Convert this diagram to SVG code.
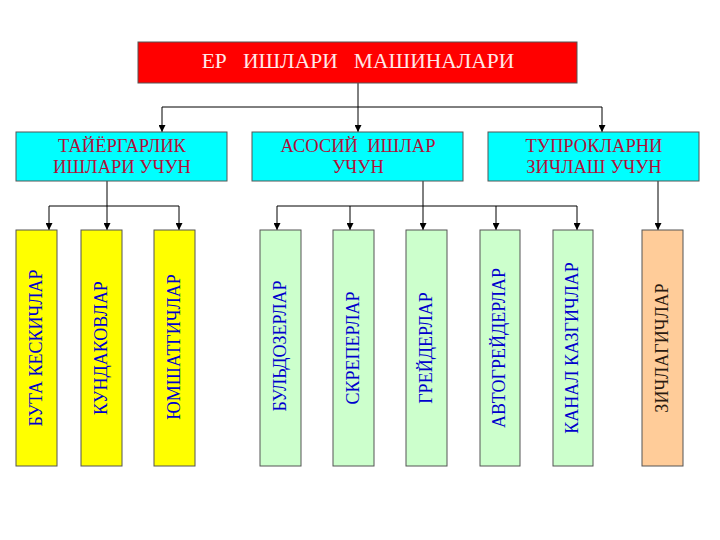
<svg xmlns="http://www.w3.org/2000/svg" width="720" height="540" viewBox="0 0 720 540">
<defs>
<marker id="ah" viewBox="0 0 8 8" refX="8" refY="4" markerWidth="7" markerHeight="7" orient="auto" markerUnits="userSpaceOnUse">
<path d="M0,0 L8,4 L0,8 z" fill="#000"/>
</marker>
<style>
.t{font-family:"Liberation Serif","Times New Roman",serif;white-space:pre}
.box{stroke:#555;stroke-width:1}
.c{fill:none;stroke:#000;stroke-width:1}
.a{fill:none;stroke:#000;stroke-width:1;marker-end:url(#ah)}
.v{font-family:"Liberation Serif","Times New Roman",serif;font-size:18px;text-anchor:middle}
.mid{font-family:"Liberation Serif","Times New Roman",serif;font-size:18.5px;text-anchor:middle;fill:#B0103A;white-space:pre}
</style>
</defs>
<rect width="720" height="540" fill="#fff"/>
<g id="connectors">
<line class="c" x1="358" y1="83" x2="358" y2="107"/>
<line class="c" x1="162" y1="107" x2="602" y2="107"/>
<line class="a" x1="162" y1="107" x2="162" y2="132"/>
<line class="a" x1="358" y1="107" x2="358" y2="132"/>
<line class="a" x1="602" y1="107" x2="602" y2="132"/>
<line class="c" x1="107" y1="181" x2="107" y2="206"/>
<line class="c" x1="49" y1="206" x2="179" y2="206"/>
<line class="a" x1="49" y1="206" x2="49" y2="230"/>
<line class="a" x1="107" y1="206" x2="107" y2="230"/>
<line class="a" x1="179" y1="206" x2="179" y2="230"/>
<line class="c" x1="423" y1="181" x2="423" y2="206"/>
<line class="c" x1="277" y1="206" x2="577" y2="206"/>
<line class="a" x1="277" y1="206" x2="277" y2="230"/>
<line class="a" x1="350" y1="206" x2="350" y2="230"/>
<line class="a" x1="423" y1="206" x2="423" y2="230"/>
<line class="a" x1="496" y1="206" x2="496" y2="230"/>
<line class="a" x1="577" y1="206" x2="577" y2="230"/>
<line class="a" x1="658" y1="181" x2="658" y2="230"/>
</g>
<g id="root">
<rect class="box" x="138" y="42" width="439" height="41" fill="#FF0000"/>
<text class="t" x="358" y="68" font-size="21.5" text-anchor="middle" fill="#FFE8E8">ЕР   ИШЛАРИ   МАШИНАЛАРИ</text>
</g>
<g id="prep">
<rect class="box" x="16" y="132" width="211" height="49" fill="#00FFFF"/>
<text class="mid" x="122" y="152">ТАЙЁРГАРЛИК</text>
<text class="mid" x="122" y="173">ИШЛАРИ УЧУН</text>
</g>
<g id="main">
<rect class="box" x="252" y="132" width="211" height="49" fill="#00FFFF"/>
<text class="mid" x="358" y="152">АСОСИЙ  ИШЛАР</text>
<text class="mid" x="358" y="173">УЧУН</text>
</g>
<g id="compact">
<rect class="box" x="488" y="132" width="211" height="49" fill="#00FFFF"/>
<text class="mid" x="594" y="152">ТУПРОКЛАРНИ</text>
<text class="mid" x="594" y="173">ЗИЧЛАШ УЧУН</text>
</g>
<g id="n1"><rect class="box" x="16" y="230" width="41" height="236" fill="#FFFF00"/><text class="v" fill="#0000CC" transform="translate(42,348) rotate(-90)">БУТА КЕСКИЧЛАР</text></g>
<g id="n2"><rect class="box" x="81" y="230" width="41" height="236" fill="#FFFF00"/><text class="v" fill="#0000CC" transform="translate(107,348) rotate(-90)">КУНДАКОВЛАР</text></g>
<g id="n3"><rect class="box" x="154" y="230" width="41" height="236" fill="#FFFF00"/><text class="v" fill="#0000CC" transform="translate(180,347) rotate(-90)">ЮМШАТГИЧЛАР</text></g>
<g id="n4"><rect class="box" x="260" y="230" width="41" height="236" fill="#CCFFCC"/><text class="v" fill="#0000CC" transform="translate(286,346) rotate(-90)">БУЛЬДОЗЕРЛАР</text></g>
<g id="n5"><rect class="box" x="333" y="230" width="41" height="236" fill="#CCFFCC"/><text class="v" fill="#0000CC" transform="translate(359,348) rotate(-90)">СКРЕПЕРЛАР</text></g>
<g id="n6"><rect class="box" x="406" y="230" width="41" height="236" fill="#CCFFCC"/><text class="v" fill="#0000CC" transform="translate(432,348) rotate(-90)">ГРЕЙДЕРЛАР</text></g>
<g id="n7"><rect class="box" x="480" y="230" width="40" height="236" fill="#CCFFCC"/><text class="v" fill="#0000CC" transform="translate(505,348) rotate(-90)">АВТОГРЕЙДЕРЛАР</text></g>
<g id="n8"><rect class="box" x="553" y="230" width="40" height="236" fill="#CCFFCC"/><text class="v" fill="#0000CC" transform="translate(578,348) rotate(-90)">КАНАЛ КАЗГИЧЛАР</text></g>
<g id="n9"><rect class="box" x="642" y="230" width="41" height="236" fill="#FFCC99"/><text class="v" fill="#2A1A10" transform="translate(668,348) rotate(-90)">ЗИЧЛАГИЧЛАР</text></g>
</svg>
